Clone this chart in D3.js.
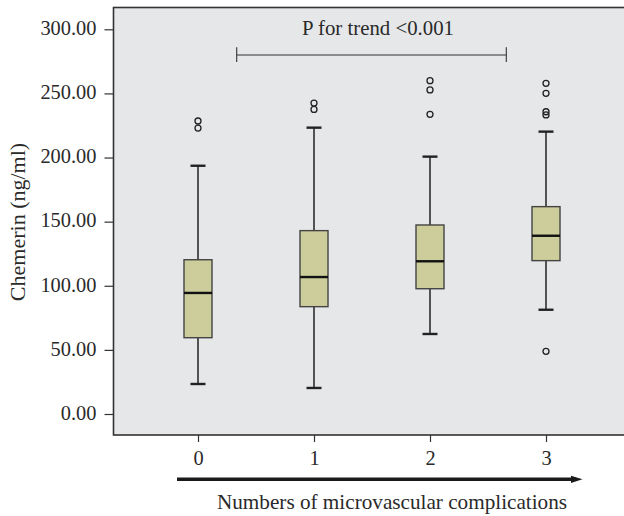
<!DOCTYPE html>
<html>
<head>
<meta charset="utf-8">
<script src="https://cdn.jsdelivr.net/npm/d3@7"></script>
<style>
  body { margin: 0; background: #fff; }
  text { font-family: "Liberation Serif", "Times New Roman", serif; fill: #2a2a2a; }
</style>
</head>
<body>
<div id="chart"></div>
<script>
const width = 624,
  height = 516;

// chemerin (ng/ml) by number of microvascular complications
const groups = ['0', '1', '2', '3'];
const whiskerLow = [23.4, 20.3, 62.4, 81.3];
const q1 = [59.5, 83.7, 97.7, 119.6];
const median = [94.4, 106.8, 119.1, 139.0];
const q3 = [120.3, 143.0, 147.4, 161.7];
const whiskerHigh = [193.6, 223.3, 200.7, 220.2];
const outliers = [
  [228.5, 223.0],
  [242.5, 237.5],
  [259.9, 252.7, 233.7],
  [257.9, 250.1, 235.7, 233.2, 48.9],
];
const yTicks = [0, 50, 100, 150, 200, 250, 300];

const boxes = groups.map((g, i) => ({
  g, lo: whiskerLow[i], q1: q1[i], med: median[i], q3: q3[i], hi: whiskerHigh[i], out: outliers[i],
}));

const svg = d3.select('#chart').append('svg')
  .attr('width', width)
  .attr('height', height);

const frame = { left: 113.5, top: 7.5, right: 640, bottom: 435 };

const y = d3.scaleLinear()
  .domain([0, 300])
  .range([414, 29.3]);

const x = d3.scalePoint()
  .domain(groups)
  .range([198, 546]);

const boxW = 28,
  capW = 15;

svg.append('rect')
  .attr('x', frame.left)
  .attr('y', frame.top)
  .attr('width', frame.right - frame.left)
  .attr('height', frame.bottom - frame.top)
  .attr('fill', '#e6e7e9')
  .attr('stroke', '#333')
  .attr('stroke-width', 1.6);

// axes
const yAxis = svg.append('g')
  .attr('transform', `translate(${frame.left},0)`)
  .call(d3.axisLeft(y).tickValues(yTicks).tickFormat(d3.format('.2f')).tickSize(9).tickPadding(8));
yAxis.select('.domain').remove();
yAxis.selectAll('line').attr('stroke', '#333').attr('stroke-width', 1.2);
yAxis.selectAll('text').attr('font-size', 20.4).attr('font-family', null).attr('fill', null).attr('dy', '0.26em');

const xAxis = svg.append('g')
  .attr('transform', `translate(0,${frame.bottom})`)
  .call(d3.axisBottom(x).tickSize(7).tickPadding(8.8));
xAxis.select('.domain').remove();
xAxis.selectAll('line').attr('stroke', '#333').attr('stroke-width', 1.2);
xAxis.selectAll('text').attr('font-size', 20.4).attr('font-family', null).attr('fill', null);

svg.append('text')
  .attr('transform', 'translate(24.5,222) rotate(-90)')
  .attr('text-anchor', 'middle')
  .attr('font-size', 22)
  .text('Chemerin (ng/ml)');

// boxes
const b = svg.append('g').selectAll('g')
  .data(boxes)
  .enter()
  .append('g');

b.append('line')
  .attr('x1', d => x(d.g)).attr('x2', d => x(d.g))
  .attr('y1', d => y(d.hi)).attr('y2', d => y(d.q3))
  .attr('stroke', '#222').attr('stroke-width', 1.5);

b.append('line')
  .attr('x1', d => x(d.g)).attr('x2', d => x(d.g))
  .attr('y1', d => y(d.q1)).attr('y2', d => y(d.lo))
  .attr('stroke', '#222').attr('stroke-width', 1.5);

['hi', 'lo'].forEach((k) => {
  b.append('line')
    .attr('x1', d => x(d.g) - capW / 2).attr('x2', d => x(d.g) + capW / 2)
    .attr('y1', d => y(d[k])).attr('y2', d => y(d[k]))
    .attr('stroke', '#222').attr('stroke-width', 2.4);
});

b.append('rect')
  .attr('x', d => x(d.g) - boxW / 2)
  .attr('y', d => y(d.q3))
  .attr('width', boxW)
  .attr('height', d => y(d.q1) - y(d.q3))
  .attr('fill', '#cdcd9b')
  .attr('stroke', '#444')
  .attr('stroke-width', 1.4);

b.append('line')
  .attr('x1', d => x(d.g) - boxW / 2).attr('x2', d => x(d.g) + boxW / 2)
  .attr('y1', d => y(d.med)).attr('y2', d => y(d.med))
  .attr('stroke', '#111').attr('stroke-width', 2.4);

b.selectAll('circle')
  .data(d => d.out.map(v => ({ g: d.g, v })))
  .enter()
  .append('circle')
  .attr('cx', d => x(d.g))
  .attr('cy', d => y(d.v))
  .attr('r', 3)
  .attr('fill', 'none')
  .attr('stroke', '#222')
  .attr('stroke-width', 1.3);

// trend bracket
const bx0 = 236.7,
  bx1 = 506.3;
const bracket = svg.append('g').attr('stroke', '#333').attr('stroke-width', 1.1);
bracket.append('line').attr('x1', bx0).attr('x2', bx1).attr('y1', y(280)).attr('y2', y(280));
[bx0, bx1].forEach((bx) => {
  bracket.append('line').attr('x1', bx).attr('x2', bx).attr('y1', y(286)).attr('y2', y(274.5));
});

svg.append('text')
  .attr('x', 378)
  .attr('y', y(295.6))
  .attr('text-anchor', 'middle')
  .attr('font-size', 20.8)
  .text('P for trend <0.001');

// arrow under the x axis
const ay = 479.3;
svg.append('line')
  .attr('x1', 177).attr('x2', 573)
  .attr('y1', ay).attr('y2', ay)
  .attr('stroke', '#1a1a1a')
  .attr('stroke-width', 3.6);
svg.append('path')
  .attr('d', `M571,${ay - 3.6}L582.5,${ay}L571,${ay + 3.6}Z`)
  .attr('fill', '#1a1a1a');

svg.append('text')
  .attr('x', 392)
  .attr('y', 509)
  .attr('text-anchor', 'middle')
  .attr('font-size', 21.2)
  .text('Numbers of microvascular complications');
</script>
</body>
</html>
